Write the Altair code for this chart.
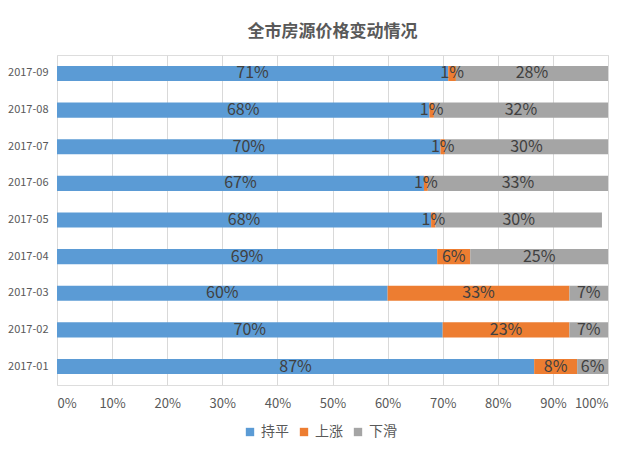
import altair as alt
import pandas as pd

months = ["2017-01", "2017-02", "2017-03", "2017-04", "2017-05",
          "2017-06", "2017-07", "2017-08", "2017-09"]
flat = [86.6, 70.0, 60.0, 69.0, 67.9, 66.6, 69.6, 67.6, 71.0]   # 持平
up = [7.8, 23.0, 33.0, 6.0, 0.8, 0.7, 0.8, 0.8, 1.4]            # 上涨
down = [5.6, 7.0, 7.0, 25.0, 30.2, 32.7, 29.6, 31.6, 27.6]      # 下滑
series = ["持平", "上涨", "下滑"]
colors = ["#5B9BD5", "#ED7D31", "#A5A5A5"]

rows = []
for i, m in enumerate(months):
    for k, (name, vals) in enumerate(zip(series, [flat, up, down])):
        rows.append({"month": m, "series": name, "ord": k, "value": vals[i] / 100.0})
df = pd.DataFrame(rows)

FONT = "Noto Sans CJK SC"

base = alt.Chart(df).transform_stack(
    stack="value", groupby=["month"], as_=["x0", "x1"],
    sort=[alt.SortField("ord", order="ascending")]
).transform_calculate(mid="(datum.x0 + datum.x1) / 2")

y_enc = alt.Y("month:N", sort=alt.SortOrder("descending"), title=None,
              scale=alt.Scale(paddingInner=0.59, paddingOuter=0.3),
              axis=alt.Axis(ticks=False, domain=False, labelFontSize=11,
                            labelColor="#595959", labelPadding=9, labelFont=FONT))

bars = base.mark_bar().encode(
    y=y_enc,
    x=alt.X("x0:Q", title=None,
            scale=alt.Scale(domain=[0, 1], nice=False),
            axis=alt.Axis(format=".0%", values=[i / 10 for i in range(11)],
                          grid=True, gridColor="#D9D9D9", ticks=False, domain=False,
                          labelFontSize=13, labelColor="#595959", labelPadding=12,
                          labelFont=FONT)),
    x2="x1:Q",
    color=alt.Color("series:N", sort=series,
                    scale=alt.Scale(domain=series, range=colors),
                    legend=alt.Legend(title=None, orient="none", direction="horizontal",
                                      legendX=186, legendY=370, symbolType="square",
                                      symbolSize=70, labelFontSize=14, labelColor="#595959",
                                      labelFont=FONT, columnPadding=8, symbolStrokeWidth=0)),
)

labels = base.mark_text(fontSize=16, color="#404040", font=FONT, baseline="middle",
                        align="center").encode(
    y=alt.Y("month:N", sort=alt.SortOrder("descending")),
    x=alt.X("mid:Q"),
    text=alt.Text("value:Q", format=".0%"),
)

chart = alt.layer(bars, labels).properties(
    width=551, height=330,
    title=alt.TitleParams("全市房源价格变动情况", fontSize=17, font=FONT, fontWeight="bold",
                          color="#595959", anchor="middle", offset=14),
    autosize=alt.AutoSizeParams(type="none"),
    padding={"left": 57, "top": 55, "right": 32, "bottom": 68},
).configure_view(stroke=None).configure(background="white")

chart.save("out.html", embed_options={"renderer": "svg", "actions": False})
